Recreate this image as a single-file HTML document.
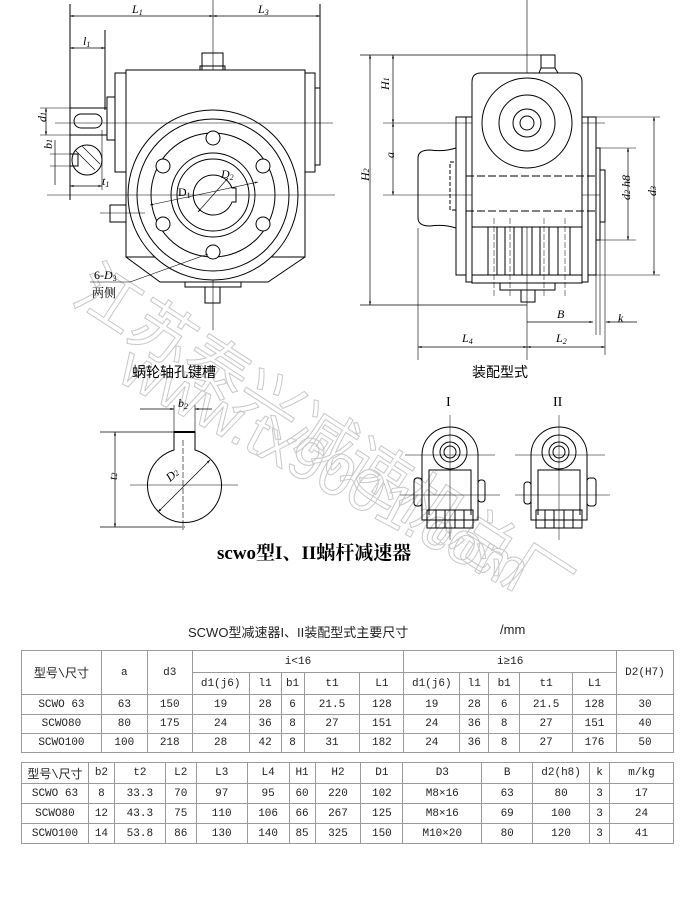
<!DOCTYPE html>
<html><head><meta charset="utf-8"><style>
html,body{margin:0;padding:0;background:#fff;}
body{width:686px;height:902px;position:relative;overflow:hidden;font-family:"Liberation Serif","Noto Serif CJK SC",serif;}
svg{position:absolute;left:0;top:0;}
table{position:absolute;border-collapse:collapse;font-family:"Liberation Mono","Noto Sans CJK SC",monospace;font-size:11px;color:#222;}
td{border:1px solid #9a9a9a;text-align:center;padding:0;}
.t{position:absolute;font-family:"Liberation Sans","Noto Sans CJK SC",sans-serif;color:#222;}
</style></head><body>
<svg width="686" height="902" viewBox="0 0 686 902">
<defs><marker id="a" viewBox="0 0 10 10" refX="10" refY="5" markerWidth="7" markerHeight="5" orient="auto-start-reverse"><path d="M0,2 L10,5 L0,8z" fill="#000"/></marker></defs>
<!-- watermark -->
<g font-family="Noto Sans CJK SC,sans-serif" fill="none" stroke="#c8c8c8" stroke-width="1">
<text x="70" y="300" font-size="64" transform="rotate(33 70 300)">江苏泰兴减速机总厂</text>
<text x="115" y="380" font-size="60" font-family="Liberation Sans,sans-serif" transform="rotate(28 115 380)">www.tx9001.com</text>
</g>
<g stroke="#000" stroke-width="1" fill="none">
<!-- front view -->
<line x1="70" y1="4" x2="70" y2="200"/><line x1="213" y1="0" x2="213" y2="330" stroke-width=".6"/><line x1="320" y1="4" x2="320" y2="90"/>
<line x1="70" y1="16" x2="213" y2="16" marker-start="url(#a)" marker-end="url(#a)" stroke-width=".7"/>
<line x1="213" y1="16" x2="320" y2="16" marker-start="url(#a)" marker-end="url(#a)" stroke-width=".7"/>
<line x1="105" y1="30" x2="105" y2="110"/>
<line x1="70" y1="48" x2="105" y2="48" marker-start="url(#a)" marker-end="url(#a)" stroke-width=".7"/>
<rect x="126" y="70" width="179" height="187" fill="#fff"/>
<path d="M126,257 L160,282 L268,282 L305,257" />
<rect x="115" y="73" width="11" height="99"/><rect x="107" y="97" width="8" height="43"/>
<rect x="305" y="73" width="10" height="99"/><rect x="315" y="88" width="5" height="77"/>
<rect x="202" y="53" width="21" height="17"/><rect x="200" y="66" width="25" height="4"/>
<circle cx="213" cy="195" r="85" fill="#fff"/><circle cx="213" cy="195" r="76"/>
<circle cx="213" cy="195" r="62"/><circle cx="213" cy="195" r="42"/><circle cx="213" cy="195" r="36"/>
<path d="M232,188 A20,20 0 1 0 232,202 L236,202 L236,188 Z"/>
<g fill="#fff"><circle cx="213" cy="138" r="7"/><circle cx="213" cy="252" r="7"/><circle cx="163" cy="166" r="7"/><circle cx="263" cy="166" r="7"/><circle cx="163" cy="224" r="7"/><circle cx="263" cy="224" r="7"/></g>
<line x1="55" y1="123" x2="333" y2="123" stroke-width=".6"/><line x1="47" y1="195" x2="335" y2="195" stroke-width=".6"/>
<rect x="70" y="108" width="37" height="27"/><rect x="74" y="114" width="28" height="14" rx="7"/>
<circle cx="87" cy="160" r="15"/><rect x="70" y="154" width="8" height="12"/>
<line x1="75" y1="150" x2="95" y2="170" stroke-width=".6"/><line x1="82" y1="146" x2="100" y2="164" stroke-width=".6"/>
<line x1="40" y1="108" x2="70" y2="108" stroke-width=".6"/><line x1="40" y1="135" x2="70" y2="135" stroke-width=".6"/>
<line x1="46" y1="108" x2="46" y2="135" marker-start="url(#a)" marker-end="url(#a)" stroke-width=".7"/>
<line x1="50" y1="154" x2="72" y2="154" stroke-width=".6"/><line x1="50" y1="166" x2="72" y2="166" stroke-width=".6"/>
<line x1="55" y1="140" x2="55" y2="185" stroke-width=".7"/>
<line x1="102" y1="130" x2="102" y2="190" stroke-width=".6"/>
<line x1="70" y1="186" x2="102" y2="186" marker-start="url(#a)" marker-end="url(#a)" stroke-width=".7"/>
<rect x="110" y="205" width="16" height="17"/><line x1="100" y1="213" x2="145" y2="213" stroke-width=".6"/>
<rect x="185" y="282" width="56" height="5"/><rect x="205" y="287" width="15" height="16"/>
<line x1="90" y1="282" x2="130" y2="282" stroke-width=".6"/><line x1="130" y1="282" x2="208" y2="254" stroke-width=".6"/>
<line x1="150" y1="205" x2="258" y2="182" stroke-width=".6" marker-start="url(#a)" marker-end="url(#a)"/>
<line x1="198" y1="212" x2="228" y2="178" stroke-width=".6" marker-start="url(#a)" marker-end="url(#a)"/>
<!-- side view -->
<line x1="360" y1="55" x2="545" y2="55" stroke-width=".7"/><line x1="360" y1="305" x2="527" y2="305" stroke-width=".7"/>
<line x1="370" y1="55" x2="370" y2="305" marker-start="url(#a)" marker-end="url(#a)" stroke-width=".7"/>
<line x1="393" y1="55" x2="393" y2="123" marker-start="url(#a)" marker-end="url(#a)" stroke-width=".7"/>
<line x1="393" y1="123" x2="393" y2="195" marker-start="url(#a)" marker-end="url(#a)" stroke-width=".7"/>
<line x1="383" y1="123" x2="605" y2="123" stroke-width=".6"/><line x1="383" y1="195" x2="600" y2="195" stroke-width=".6"/>
<line x1="527" y1="0" x2="527" y2="360" stroke-width=".6"/>
<path d="M418,158 q0,-8 12,-8 q14,2 26,-2 v80 q-12,-4 -26,-2 q-12,0 -12,-8z"/>
<rect x="456" y="117" width="10" height="158"/><rect x="466" y="117" width="6" height="165"/>
<rect x="582" y="117" width="6" height="165"/><rect x="588" y="117" width="8" height="158"/>
<rect x="596" y="148" width="4" height="92"/><rect x="600" y="170" width="5" height="52"/>
<rect x="450" y="162" width="6" height="48" stroke-dasharray="4 2"/>
<path d="M472,227 V82 q0,-9 9,-9 H573 q9,0 9,9 V227 Z" fill="#fff"/>
<line x1="466" y1="176" x2="596" y2="176" stroke-dasharray="8 3"/><line x1="466" y1="211" x2="596" y2="211" stroke-dasharray="8 3"/>
<circle cx="527" cy="123" r="45" fill="#fff"/><circle cx="527" cy="123" r="28"/><circle cx="527" cy="123" r="14"/><circle cx="527" cy="123" r="7"/>
<rect x="488" y="227" width="82" height="48"/>
<path d="M497,227v48M505,227v48M514,227v48M522,227v48M532,227v48M540,227v48M549,227v48M558,227v48"/>
<path d="M494,218v80M510,218v80M544,218v80M565,218v80" stroke-width=".5" stroke-dasharray="6 2"/>
<rect x="472" y="275" width="110" height="8"/><rect x="500" y="283" width="55" height="7"/><rect x="521" y="290" width="14" height="12"/>
<rect x="541" y="55" width="14" height="13"/><path d="M539,73 L541,68 H555 L558,73"/>
<line x1="596" y1="117" x2="660" y2="117" stroke-width=".6"/><line x1="596" y1="275" x2="660" y2="275" stroke-width=".6"/>
<line x1="600" y1="148" x2="636" y2="148" stroke-width=".6"/><line x1="600" y1="240" x2="636" y2="240" stroke-width=".6"/>
<line x1="628" y1="148" x2="628" y2="240" marker-start="url(#a)" marker-end="url(#a)" stroke-width=".7"/>
<line x1="654" y1="117" x2="654" y2="275" marker-start="url(#a)" marker-end="url(#a)" stroke-width=".7"/>
<line x1="418" y1="228" x2="418" y2="360" stroke-width=".6"/>
<line x1="596" y1="275" x2="596" y2="335" stroke-width=".6"/><line x1="600" y1="240" x2="600" y2="335" stroke-width=".6"/><line x1="605" y1="222" x2="605" y2="355" stroke-width=".6"/>
<line x1="527" y1="322" x2="593" y2="322" marker-end="url(#a)" stroke-width=".7"/>
<line x1="606" y1="322" x2="637" y2="322" marker-start="url(#a)" stroke-width=".7"/>
<line x1="418" y1="347" x2="527" y2="347" marker-start="url(#a)" marker-end="url(#a)" stroke-width=".7"/>
<line x1="527" y1="347" x2="605" y2="347" marker-start="url(#a)" marker-end="url(#a)" stroke-width=".7"/>
<!-- key groove -->
<path d="M174,450 A37,37 0 1 0 195,450 V432 H174 Z" fill="#fff"/>
<line x1="174" y1="432" x2="195" y2="432" stroke-width="2"/>
<line x1="100" y1="432" x2="174" y2="432" stroke-width=".7"/><line x1="100" y1="527" x2="185" y2="527" stroke-width=".7"/>
<line x1="115" y1="432" x2="115" y2="527" marker-start="url(#a)" marker-end="url(#a)" stroke-width=".7"/>
<line x1="174" y1="405" x2="174" y2="432" stroke-width=".6"/><line x1="195" y1="405" x2="195" y2="432" stroke-width=".6"/>
<line x1="140" y1="409" x2="174" y2="409" marker-end="url(#a)" stroke-width=".7"/><line x1="195" y1="409" x2="212" y2="409" marker-start="url(#a)" stroke-width=".7"/>
<line x1="130" y1="485" x2="238" y2="485" stroke-width=".6"/><line x1="183" y1="440" x2="183" y2="530" stroke-width=".6" stroke-dasharray="6 2"/>
<line x1="158" y1="512" x2="210" y2="460" marker-start="url(#a)" marker-end="url(#a)" stroke-width=".7"/>
<!-- views I, II -->
<g>
<path d="M422,520 V455 a28,28 0 0 1 56,0 V520 Z"/><path d="M429,515 V470 h42 V515" /><circle cx="450" cy="452" r="17"/><circle cx="450" cy="452" r="10"/><circle cx="450" cy="452" r="6"/>
<rect x="414" y="478" width="8" height="28" rx="3"/><rect x="478" y="480" width="7" height="22" rx="3"/>
<rect x="427" y="510" width="46" height="18"/><path d="M436,510v18M445,510v18M455,510v18M464,510v18"/>
<line x1="450" y1="415" x2="450" y2="540" stroke-width=".5"/><line x1="405" y1="455" x2="495" y2="455" stroke-width=".5"/><line x1="400" y1="495" x2="500" y2="495" stroke-width=".5"/>
</g>
<g>
<path d="M531,520 V455 a28,28 0 0 1 56,0 V520 Z"/><path d="M538,515 V470 h42 V515"/><circle cx="559" cy="452" r="17"/><circle cx="559" cy="452" r="10"/><circle cx="559" cy="452" r="6"/>
<rect x="524" y="482" width="7" height="22" rx="3"/><rect x="587" y="478" width="9" height="28" rx="3"/>
<rect x="536" y="510" width="46" height="18"/><path d="M545,510v18M554,510v18M564,510v18M573,510v18"/>
<line x1="559" y1="415" x2="559" y2="540" stroke-width=".5"/><line x1="515" y1="455" x2="605" y2="455" stroke-width=".5"/><line x1="515" y1="495" x2="610" y2="495" stroke-width=".5"/>
</g>
</g>
<g font-family="Liberation Serif,Noto Serif CJK SC,serif" font-size="12" font-style="italic" fill="#000">
<text x="132" y="13">L<tspan font-size="8" dy="2">1</tspan></text>
<text x="258" y="13">L<tspan font-size="8" dy="2">3</tspan></text>
<text x="83" y="45">l<tspan font-size="8" dy="2">1</tspan></text>
<text x="42" y="126" transform="rotate(-90 42 122)">d<tspan font-size="8">1</tspan></text>
<text x="48" y="153" transform="rotate(-90 48 149)">b<tspan font-size="8">1</tspan></text>
<text x="102" y="185">t<tspan font-size="8" dy="2">1</tspan></text>
<text x="178" y="196" font-style="normal">D<tspan font-size="8" dy="2">1</tspan></text>
<text x="221" y="178">D<tspan font-size="8" dy="2">2</tspan></text>
<text x="94" y="279" font-style="normal">6-<tspan font-style="italic">D</tspan><tspan font-size="8" dy="2">3</tspan></text>
<text x="92" y="297" font-style="normal" font-family="Noto Serif CJK SC,serif">两侧</text>
<text x="385" y="94" transform="rotate(-90 385 90)">H<tspan font-size="8">1</tspan></text>
<text x="390" y="162" transform="rotate(-90 390 158)">a</text>
<text x="365" y="185" transform="rotate(-90 365 181)">H<tspan font-size="8">2</tspan></text>
<text x="625" y="205" transform="rotate(-90 625 200)">d<tspan font-size="8">2</tspan> h8</text>
<text x="652" y="200" transform="rotate(-90 652 196)">d<tspan font-size="8">3</tspan></text>
<text x="557" y="318">B</text><text x="618" y="322">k</text>
<text x="462" y="342">L<tspan font-size="8" dy="2">4</tspan></text>
<text x="556" y="342">L<tspan font-size="8" dy="2">2</tspan></text>
<text x="178" y="407">b<tspan font-size="8" dy="2">2</tspan></text>
<text x="112" y="485" transform="rotate(-90 112 480)">t<tspan font-size="8">2</tspan></text>
<text x="170" y="482" transform="rotate(-40 170 482)">D<tspan font-size="8">2</tspan></text>
<text x="446" y="406" font-style="normal" font-size="14">I</text>
<text x="553" y="406" font-style="normal" font-size="14">II</text>
</g>
<text x="132" y="377" font-family="Noto Sans CJK SC,sans-serif" font-size="14">蜗轮轴孔键槽</text>
<text x="472" y="377" font-family="Noto Sans CJK SC,sans-serif" font-size="14">装配型式</text>
<text x="217" y="559" font-family="Liberation Serif,Noto Serif CJK SC,serif" font-size="19" font-weight="bold">scwo型I、II蜗杆减速器</text>
</svg>
<div class="t" style="left:188px;top:622px;font-size:13px;">SCWO型减速器I、II装配型式主要尺寸</div>
<div class="t" style="left:500px;top:622px;font-size:13px;">/mm</div>
<table style="left:21px;top:650px;width:653px;">
<colgroup><col style="width:80px"><col style="width:46px"><col style="width:45px"><col style="width:57px"><col style="width:32px"><col style="width:23px"><col style="width:56px"><col style="width:44px"><col style="width:56px"><col style="width:29px"><col style="width:31px"><col style="width:53px"><col style="width:44px"><col style="width:57px"></colgroup>
<tr style="height:22px"><td rowspan="2" style="font-size:12px">型号\尺寸</td><td rowspan="2">a</td><td rowspan="2">d3</td><td colspan="5">i&lt;16</td><td colspan="5">i≥16</td><td rowspan="2">D2(H7)</td></tr>
<tr style="height:22px"><td>d1(j6)</td><td>l1</td><td>b1</td><td>t1</td><td>L1</td><td>d1(j6)</td><td>l1</td><td>b1</td><td>t1</td><td>L1</td></tr>
<tr style="height:20px"><td>SCWO 63</td><td>63</td><td>150</td><td>19</td><td>28</td><td>6</td><td>21.5</td><td>128</td><td>19</td><td>28</td><td>6</td><td>21.5</td><td>128</td><td>30</td></tr>
<tr style="height:19px"><td>SCWO80</td><td>80</td><td>175</td><td>24</td><td>36</td><td>8</td><td>27</td><td>151</td><td>24</td><td>36</td><td>8</td><td>27</td><td>151</td><td>40</td></tr>
<tr style="height:19px"><td>SCWO100</td><td>100</td><td>218</td><td>28</td><td>42</td><td>8</td><td>31</td><td>182</td><td>24</td><td>36</td><td>8</td><td>27</td><td>176</td><td>50</td></tr>
</table>
<table style="left:21px;top:762px;width:653px;">
<colgroup><col style="width:67px"><col style="width:26px"><col style="width:51px"><col style="width:31px"><col style="width:51px"><col style="width:42px"><col style="width:26px"><col style="width:46px"><col style="width:42px"><col style="width:79px"><col style="width:51px"><col style="width:57px"><col style="width:20px"><col style="width:64px"></colgroup>
<tr style="height:21px"><td style="font-size:12px">型号\尺寸</td><td>b2</td><td>t2</td><td>L2</td><td>L3</td><td>L4</td><td>H1</td><td>H2</td><td>D1</td><td>D3</td><td>B</td><td>d2(h8)</td><td>k</td><td>m/kg</td></tr>
<tr style="height:20px"><td>SCWO 63</td><td>8</td><td>33.3</td><td>70</td><td>97</td><td>95</td><td>60</td><td>220</td><td>102</td><td>M8×16</td><td>63</td><td>80</td><td>3</td><td>17</td></tr>
<tr style="height:20px"><td>SCWO80</td><td>12</td><td>43.3</td><td>75</td><td>110</td><td>106</td><td>66</td><td>267</td><td>125</td><td>M8×16</td><td>69</td><td>100</td><td>3</td><td>24</td></tr>
<tr style="height:20px"><td>SCWO100</td><td>14</td><td>53.8</td><td>86</td><td>130</td><td>140</td><td>85</td><td>325</td><td>150</td><td>M10×20</td><td>80</td><td>120</td><td>3</td><td>41</td></tr>
</table>
</body></html>
